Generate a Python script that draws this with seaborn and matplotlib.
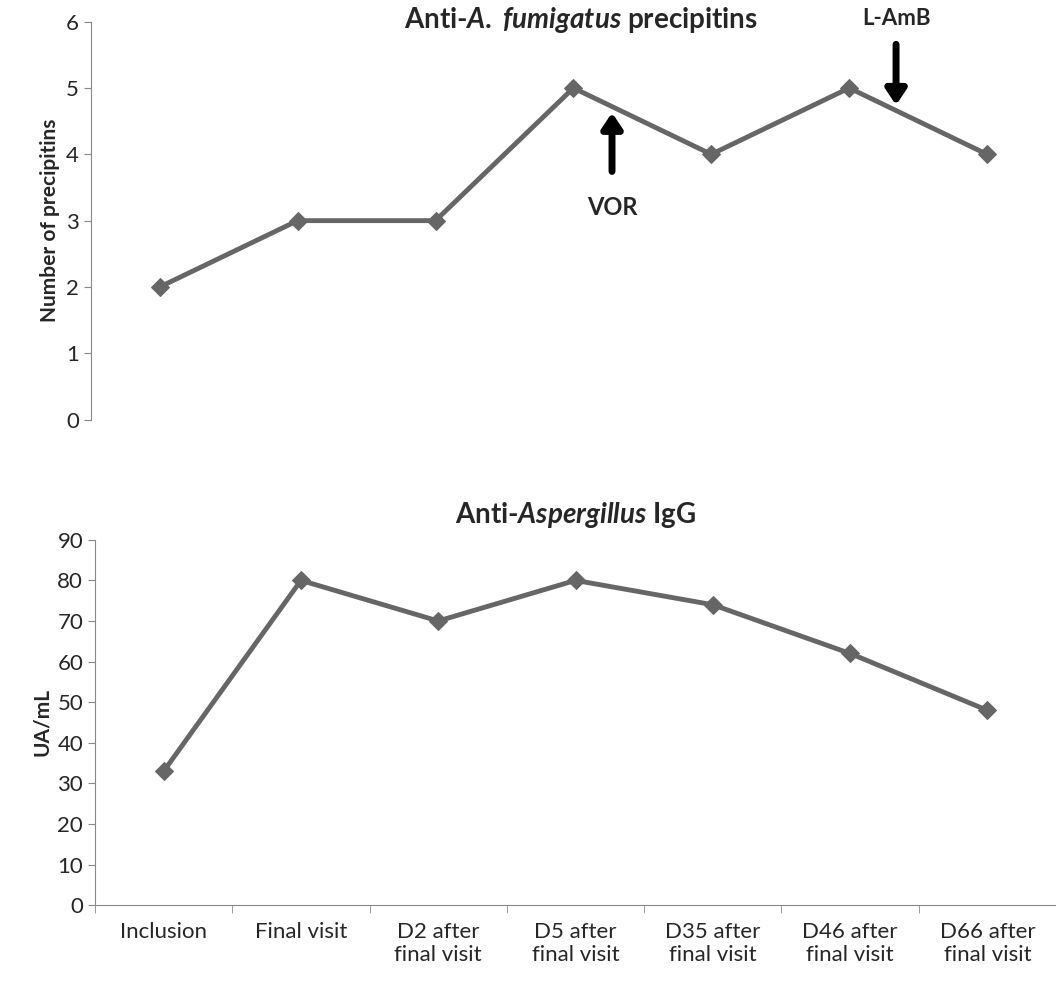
import numpy as np
import pandas as pd
import matplotlib.pyplot as plt
import seaborn as sns

visits = ['Inclusion', 'Final visit', 'D2 after\nfinal visit', 'D5 after\nfinal visit',
          'D35 after\nfinal visit', 'D46 after\nfinal visit', 'D66 after\nfinal visit']
precipitins = [2, 3, 3, 5, 4, 5, 4]
igg = [33, 80, 70, 80, 74, 62, 48]

sns.set_style('white')
plt.rcParams['font.family'] = ['Lato', 'DejaVu Sans']
plt.rcParams['mathtext.fontset'] = 'custom'
plt.rcParams['mathtext.it'] = 'Lato:italic:bold'
plt.rcParams['mathtext.rm'] = 'Lato:bold'

fig = plt.figure(figsize=(10.56, 9.85), dpi=100)
ax1 = fig.add_axes([0.086, 0.574, 0.914, 0.404])
ax2 = fig.add_axes([0.090, 0.081, 0.910, 0.371])

col = '#666666'
df = pd.DataFrame({'x': np.arange(7), 'p': precipitins, 'g': igg})

sns.lineplot(data=df, x='x', y='p', ax=ax1, color=col, lw=3.5, marker='D',
             markersize=9, markeredgecolor=col)
sns.lineplot(data=df, x='x', y='g', ax=ax2, color=col, lw=3.5, marker='D',
             markersize=9, markeredgecolor=col)

for ax in (ax1, ax2):
    ax.set_xlim(-0.5, 6.5)
    for s in ['top', 'right']:
        ax.spines[s].set_visible(False)
    ax.spines['left'].set_color('#888888')
    ax.tick_params(axis='y', labelsize=16, length=5, color='#888888', left=True)

ax1.spines['bottom'].set_visible(False)
ax1.set_xticks([])
ax1.set_ylim(0, 6)
ax1.set_yticks(range(0, 7))
ax1.set_xlabel('')
ax1.set_ylabel('Number of precipitins', fontsize=15, fontweight='bold')
fig.text(0.55, 1 - 20 / 985, r'Anti-$\it{A.}$ $\it{fumigatus}$ precipitins', fontsize=20,
         fontweight='bold', ha='center', va='center')

arrow = dict(arrowstyle='-|>,head_width=0.6,head_length=0.9', lw=5, color='black')
ax1.annotate('', xy=(3.28, 4.67), xytext=(3.28, 3.7), arrowprops=arrow)
ax1.text(3.28, 3.2, 'VOR', ha='center', va='center', fontsize=17, fontweight='bold')
ax1.annotate('', xy=(5.34, 4.7), xytext=(5.34, 5.7), arrowprops=arrow)
ax1.text(5.34, 6.05, 'L-AmB', ha='center', va='center', fontsize=16, fontweight='bold')

ax2.set_ylim(0, 90)
ax2.set_yticks(range(0, 91, 10))
ax2.set_xticks(np.arange(7))
ax2.set_xticklabels(visits, fontsize=16)
ax2.set_xticks(np.arange(-0.5, 7, 1), minor=True)
ax2.tick_params(axis='x', which='major', length=0, pad=12)
ax2.tick_params(axis='x', which='minor', length=6, color='#888888', bottom=True)
ax2.spines['bottom'].set_color('#888888')
ax2.set_xlabel('')
ax2.set_ylabel('UA/mL', fontsize=15, fontweight='bold')
ax2.set_title(r'Anti-$\it{Aspergillus}$ IgG', fontsize=20, fontweight='bold', pad=12)

fig.savefig('out.png', dpi=100)
